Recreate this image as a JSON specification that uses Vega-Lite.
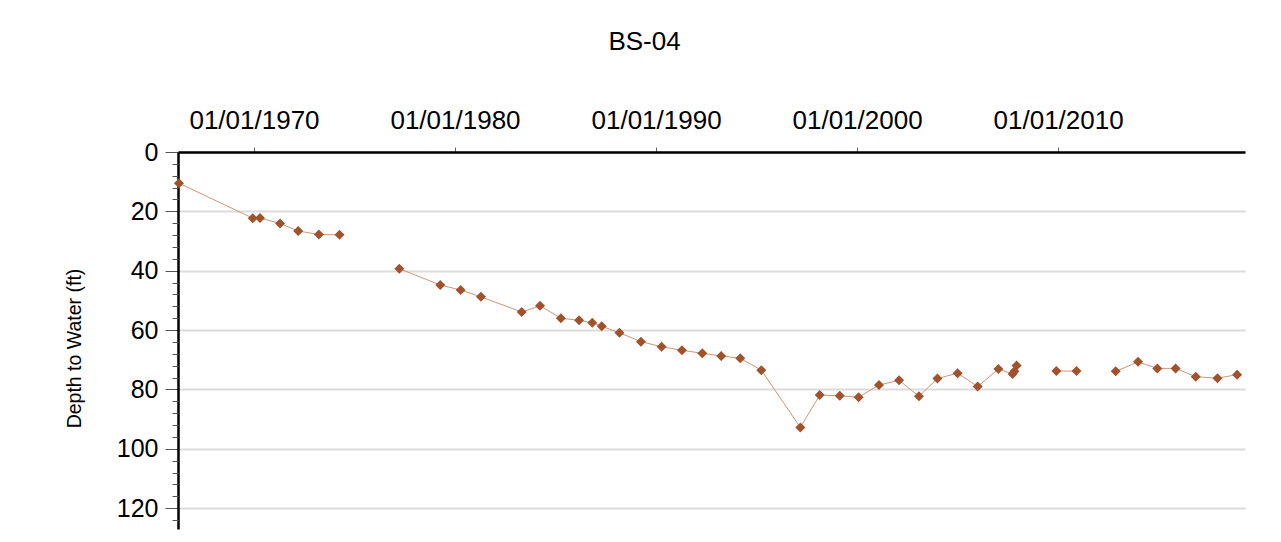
{
  "$schema": "https://vega.github.io/schema/vega-lite/v6.json",
  "width": 1067,
  "height": 377,
  "autosize": {"type": "none"},
  "padding": {"left": 178, "top": 152, "right": 36, "bottom": 13},
  "background": "#ffffff",
  "title": {
    "text": "BS-04",
    "font": "Liberation Sans",
    "fontSize": 26,
    "fontWeight": "normal",
    "color": "#000000",
    "anchor": "middle",
    "dx": -67,
    "offset": 52
  },
  "config": {
    "view": {"stroke": null},
    "font": "Liberation Sans"
  },
  "data": {
    "values": [
      {"date": "1966-04-08", "depth": 10.5, "seg": 1},
      {"date": "1969-12-09", "depth": 22.3, "seg": 1},
      {"date": "1970-04-20", "depth": 22.2, "seg": 1},
      {"date": "1971-04-20", "depth": 24.1, "seg": 1},
      {"date": "1972-03-14", "depth": 26.6, "seg": 1},
      {"date": "1973-03-25", "depth": 27.8, "seg": 1},
      {"date": "1974-04-05", "depth": 27.9, "seg": 1},
      {"date": "1977-03-25", "depth": 39.3, "seg": 2},
      {"date": "1979-04-08", "depth": 44.8, "seg": 2},
      {"date": "1980-04-12", "depth": 46.5, "seg": 2},
      {"date": "1981-04-16", "depth": 48.8, "seg": 2},
      {"date": "1983-04-27", "depth": 53.9, "seg": 2},
      {"date": "1984-03-25", "depth": 51.8, "seg": 2},
      {"date": "1985-04-08", "depth": 56.0, "seg": 2},
      {"date": "1986-03-04", "depth": 56.7, "seg": 2},
      {"date": "1986-10-30", "depth": 57.5, "seg": 2},
      {"date": "1987-04-20", "depth": 58.7, "seg": 2},
      {"date": "1988-03-07", "depth": 60.9, "seg": 2},
      {"date": "1989-04-01", "depth": 63.9, "seg": 2},
      {"date": "1990-04-12", "depth": 65.6, "seg": 2},
      {"date": "1991-04-16", "depth": 66.8, "seg": 2},
      {"date": "1992-04-20", "depth": 67.8, "seg": 2},
      {"date": "1993-03-29", "depth": 68.7, "seg": 2},
      {"date": "1994-03-11", "depth": 69.5, "seg": 2},
      {"date": "1995-03-29", "depth": 73.5, "seg": 2},
      {"date": "1997-03-07", "depth": 92.8, "seg": 2},
      {"date": "1998-02-21", "depth": 81.9, "seg": 2},
      {"date": "1999-02-21", "depth": 82.1, "seg": 2},
      {"date": "2000-01-30", "depth": 82.6, "seg": 2},
      {"date": "2001-02-03", "depth": 78.5, "seg": 2},
      {"date": "2002-02-03", "depth": 76.9, "seg": 2},
      {"date": "2003-01-30", "depth": 82.3, "seg": 2},
      {"date": "2004-01-01", "depth": 76.3, "seg": 2},
      {"date": "2005-01-01", "depth": 74.5, "seg": 2},
      {"date": "2006-01-01", "depth": 79.0, "seg": 2},
      {"date": "2007-01-12", "depth": 73.1, "seg": 2},
      {"date": "2007-09-27", "depth": 74.8, "seg": 2},
      {"date": "2007-10-30", "depth": 73.9, "seg": 2},
      {"date": "2007-12-09", "depth": 71.9, "seg": 2},
      {"date": "2009-12-01", "depth": 73.8, "seg": 3},
      {"date": "2010-12-01", "depth": 73.8, "seg": 3},
      {"date": "2012-11-13", "depth": 73.9, "seg": 4},
      {"date": "2013-12-24", "depth": 70.7, "seg": 4},
      {"date": "2014-12-09", "depth": 72.9, "seg": 4},
      {"date": "2015-11-06", "depth": 72.9, "seg": 4},
      {"date": "2016-11-06", "depth": 75.7, "seg": 4},
      {"date": "2017-12-05", "depth": 76.2, "seg": 4},
      {"date": "2018-11-28", "depth": 75.0, "seg": 4}
    ]
  },
  "resolve": {"axis": {"y": "independent", "x": "independent"}},
  "layer": [
    {
      "mark": {"type": "line", "color": "#cf967b", "strokeWidth": 1},
      "encoding": {
        "x": {
          "field": "date",
          "type": "temporal",
          "scale": {"type": "utc", "domain": ["1966-03-22", "2019-04-20"]},
          "axis": {
            "orient": "top",
            "values": [
              {"year": 1970, "month": 1, "date": 1, "utc": true},
              {"year": 1980, "month": 1, "date": 1, "utc": true},
              {"year": 1990, "month": 1, "date": 1, "utc": true},
              {"year": 2000, "month": 1, "date": 1, "utc": true},
              {"year": 2010, "month": 1, "date": 1, "utc": true}
            ],
            "labelExpr": "utcFormat(datum.value, '%m/%d/%Y')",
            "title": null,
            "grid": false,
            "labelFont": "Liberation Sans",
            "labelFontSize": 26,
            "labelColor": "#000000",
            "labelBaseline": "alphabetic",
            "labelPadding": 19,
            "labelFlush": false,
            "labelOverlap": false,
            "tickSize": 5,
            "tickColor": "#666666",
            "tickWidth": 1,
            "domainColor": "#000000",
            "domainWidth": 2.5
          }
        },
        "y": {
          "field": "depth",
          "type": "quantitative",
          "scale": {"domain": [0, 127], "reverse": true, "nice": false, "zero": false},
          "axis": {
            "orient": "left",
            "values": [0, 20, 40, 60, 80, 100, 120],
            "title": "Depth to Water (ft)",
            "titleFont": "Liberation Sans",
            "titleFontSize": 19.5,
            "titleFontWeight": "normal",
            "titleColor": "#000000",
            "titlePadding": 32,
            "titleY": 196,
            "labelFont": "Liberation Sans",
            "labelFontSize": 25,
            "labelColor": "#000000",
            "labelPadding": 7,
            "labelFlush": false,
            "labelOverlap": false,
            "tickSize": 13,
            "tickColor": "#555555",
            "tickWidth": 1,
            "grid": true,
            "gridColor": "#dcdcdc",
            "gridWidth": 2,
            "domainColor": "#000000",
            "domainWidth": 2.5
          }
        },
        "detail": {"field": "seg", "type": "nominal"}
      }
    },
    {
      "mark": {"type": "point", "shape": "diamond", "filled": true, "color": "#a0522d", "opacity": 1, "size": 100},
      "encoding": {
        "x": {
          "field": "date",
          "type": "temporal",
          "scale": {"type": "utc", "domain": ["1966-03-22", "2019-04-20"]},
          "axis": null
        },
        "y": {
          "field": "depth",
          "type": "quantitative",
          "scale": {"domain": [0, 127], "reverse": true, "nice": false, "zero": false},
          "axis": {
            "orient": "left",
            "values": [4, 8, 12, 16, 24, 28, 32, 36, 44, 48, 52, 56, 64, 68, 72, 76, 84, 88, 92, 96, 104, 108, 112, 116, 124],
            "title": null,
            "labels": false,
            "domain": false,
            "grid": false,
            "tickSize": 6,
            "tickColor": "#555555",
            "tickWidth": 1
          }
        }
      }
    }
  ]
}
